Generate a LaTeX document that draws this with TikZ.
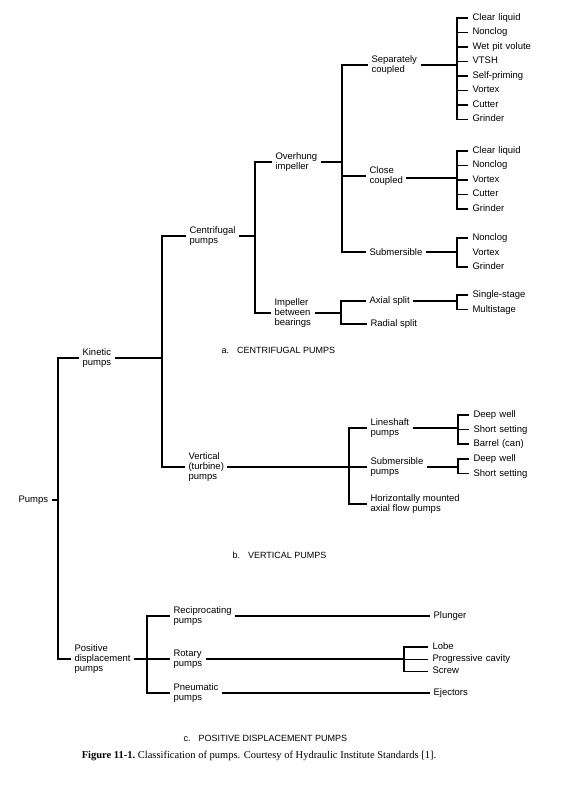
\documentclass[tikz,border=0pt]{standalone}
\usepackage{fontspec}
\setmainfont{Liberation Sans}
\newfontfamily\capfont{Liberation Serif}
\usetikzlibrary{positioning}

\begin{document}
\begin{tikzpicture}[x=1pt, y=-1pt, line width=1.1pt,
        txtnode/.style={anchor=west, align=left, inner xsep=3pt, inner ysep=1pt, font=\fontsize{9.5}{10}\selectfont},
        itemnode/.style={text width=90pt, align=left, inner xsep=4pt, inner ysep=0pt, text height=7pt, text depth=2pt, minimum height=13.4pt, font=\fontsize{9.5}{10}\selectfont},
        firstitem/.style={itemnode, anchor=west},
        tight/.style={minimum height=11pt},
        headnode/.style={anchor=west, inner sep=0pt, font=\fontsize{9}{10}\selectfont},
        capnode/.style={inner sep=0pt, font=\capfont\fontsize{10.5}{12}\selectfont}]
        \useasboundingbox (0,0) rectangle (576,799);
        %Nodes
        \node[txtnode] (pumps) at (15,500) {Pumps};
        \node[txtnode] (kin)   at (79,358) {Kinetic\\pumps};
        \node[txtnode] (pos)   at (71,659) {Positive\\displacement\\pumps};
        \node[txtnode] (cen)   at (186,236) {Centrifugal\\pumps};
        \node[txtnode] (ver)   at (185,467) {Vertical\\(turbine)\\pumps};
        \node[txtnode] (ovh)   at (272,162) {Overhung\\impeller};
        \node[txtnode] (imp)   at (271,313) {Impeller\\between\\bearings};
        \node[txtnode] (sep)   at (368,65) {Separately\\coupled};
        \node[txtnode] (clo)   at (366,176) {Close\\coupled};
        \node[txtnode] (sub)   at (366,252) {Submersible};
        \node[txtnode] (axi)   at (366,301) {Axial split};
        \node[txtnode] (rad)   at (367,324) {Radial split};
        \node[txtnode] (lin)   at (367,428) {Lineshaft\\pumps};
        \node[txtnode] (sbp)   at (367,467) {Submersible\\pumps};
        \node[txtnode] (hor)   at (367,504) {Horizontally mounted\\axial flow pumps};
        \node[txtnode] (rec)   at (170,616) {Reciprocating\\pumps};
        \node[txtnode] (rot)   at (170,659) {Rotary\\pumps};
        \node[txtnode] (pne)   at (170,693) {Pneumatic\\pumps};
        \node[txtnode] (plu)   at (430,616) {Plunger};
        \node[txtnode] (eje)   at (430,693) {Ejectors};
        %Lists
        \node[firstitem] (sc1) at (468,18) {Clear liquid};
        \node[itemnode]  (sc2) [below=0pt of sc1] {Nonclog};
        \node[itemnode]  (sc3) [below=0pt of sc2] {Wet pit volute};
        \node[itemnode]  (sc4) [below=0pt of sc3] {VTSH};
        \node[itemnode]  (sc5) [below=0pt of sc4] {Self-priming};
        \node[itemnode]  (sc6) [below=0pt of sc5] {Vortex};
        \node[itemnode]  (sc7) [below=0pt of sc6] {Cutter};
        \node[itemnode]  (sc8) [below=0pt of sc7] {Grinder};
        \node[firstitem] (cc1) at (468,151) {Clear liquid};
        \node[itemnode]  (cc2) [below=0pt of cc1] {Nonclog};
        \node[itemnode]  (cc3) [below=0pt of cc2] {Vortex};
        \node[itemnode]  (cc4) [below=0pt of cc3] {Cutter};
        \node[itemnode]  (cc5) [below=0pt of cc4] {Grinder};
        \node[firstitem] (su1) at (468,238) {Nonclog};
        \node[itemnode]  (su2) [below=0pt of su1] {Vortex};
        \node[itemnode]  (su3) [below=0pt of su2] {Grinder};
        \node[firstitem] (ax1) at (468,295) {Single-stage};
        \node[itemnode]  (ax2) [below=0pt of ax1] {Multistage};
        \node[firstitem] (ls1) at (469,415) {Deep well};
        \node[itemnode]  (ls2) [below=0pt of ls1] {Short setting};
        \node[itemnode]  (ls3) [below=0pt of ls2] {Barrel (can)};
        \node[firstitem] (sp1) at (469,459) {Deep well};
        \node[itemnode]  (sp2) [below=0pt of sp1] {Short setting};
        \node[firstitem, tight] (ro1) at (428,647) {Lobe};
        \node[itemnode, tight]  (ro2) [below=0pt of ro1] {Progressive cavity};
        \node[itemnode, tight]  (ro3) [below=0pt of ro2] {Screw};
        %Headings
        \node[headnode] (capa) at (221,350) {a.\hspace{8pt}CENTRIFUGAL PUMPS};
        \node[headnode] (capb) at (232,555) {b.\hspace{8pt}VERTICAL PUMPS};
        \node[headnode] (capc) at (183,738) {c.\hspace{8pt}POSITIVE DISPLACEMENT PUMPS};
        \node[capnode]  (fig)  at (259,756) {\textbf{Figure 11-1.}\ Classification of pumps. Courtesy of Hydraulic Institute Standards [1].};
        %Junctions
        \coordinate (j0)   at (58,500);
        \coordinate (jk)   at (162,358);
        \coordinate (jc)   at (255,236);
        \coordinate (jo)   at (342,162);
        \coordinate (jsep) at (457,65);
        \coordinate (jclo) at (457,178);
        \coordinate (jsub) at (457,252);
        \coordinate (ji)   at (341,313);
        \coordinate (jax)  at (457,301);
        \coordinate (jv)   at (349,467);
        \coordinate (jlin) at (458,428);
        \coordinate (jsbp) at (458,467);
        \coordinate (jp)   at (147,659);
        \coordinate (jrot) at (404,659);
        %Lines
        \draw (pumps.east) -- (j0);
        \draw (kin.west) -| (j0) |- (pos.west);
        \draw (kin.east) -- (jk);
        \draw (cen.west) -| (jk) |- (ver.west);
        \draw (cen.east) -- (jc);
        \draw (ovh.west) -| (jc) |- (imp.west);
        \draw (ovh.east) -- (jo);
        \draw (sep.west) -| (jo) |- (sub.west);
        \draw (clo.west) -- (clo.west -| jo);
        \draw (sep.east) -- (sep.east -| jsep);
        \draw (sc1.west) -| (jsep) |- (sc8.west);
        \foreach \n in {sc2,sc3,sc4,sc5,sc6,sc7}
            \draw (\n.west) -- (\n.west -| jsep);
        \draw (clo.east |- jclo) -- (jclo);
        \draw (cc1.west) -| (jclo) |- (cc5.west);
        \foreach \n in {cc2,cc3,cc4}
            \draw (\n.west) -- (\n.west -| jclo);
        \draw (sub.east) -- (jsub);
        \draw (su1.west) -| (jsub) |- (su3.west);
        \draw (imp.east) -- (ji);
        \draw (axi.west) -| (ji) |- (rad.west);
        \draw (axi.east) -- (axi.east -| jax);
        \draw (ax1.west) -| (jax) |- (ax2.west);
        \draw (ver.east) -- (jv);
        \draw (lin.west) -| (jv) |- (hor.west);
        \draw (jv) -- (sbp.west);
        \draw (lin.east) -- (jlin);
        \draw (ls1.west) -| (jlin) |- (ls3.west);
        \draw (ls2.west) -- (ls2.west -| jlin);
        \draw (sbp.east) -- (jsbp);
        \draw (sp1.west) -| (jsbp) |- (sp2.west);
        \draw (pos.east) -- (jp);
        \draw (rec.west) -| (jp) |- (pne.west);
        \draw (jp) -- (rot.west);
        \draw (rec.east) -- (plu.west);
        \draw (rot.east) -- (jrot);
        \draw (ro1.west) -| (jrot) |- (ro3.west);
        \draw (ro2.west) -- (ro2.west -| jrot);
        \draw (pne.east) -- (eje.west);
\end{tikzpicture}
\end{document}
